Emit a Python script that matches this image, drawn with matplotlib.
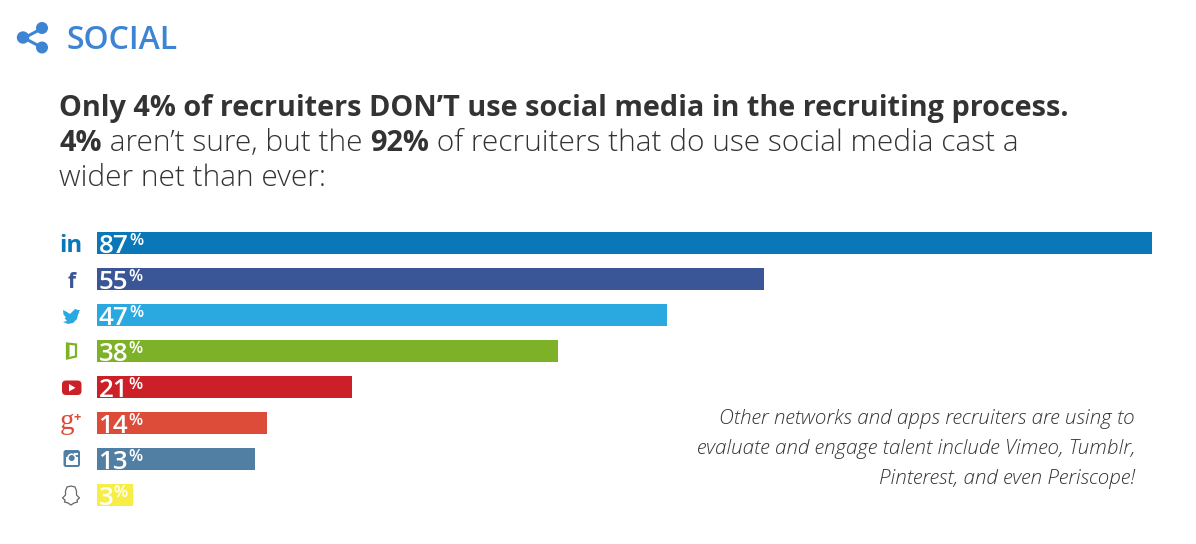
"""SOCIAL - recruiters bar chart"""

import matplotlib
matplotlib.use("Agg")

import matplotlib.pyplot as plt
from matplotlib.patches import Circle, FancyBboxPatch, Polygon, Rectangle

networks = ["LinkedIn", "Facebook", "Twitter", "Doximity", "YouTube", "Google+", "Instagram", "Snapchat"]
values = [87, 55, 47, 38, 21, 14, 13, 3]
colors = ["#0a78b8", "#3b5697", "#2aa9e1", "#7db228", "#cb2027", "#dd4b39", "#517fa4", "#f7ee45"]

section_title = "SOCIAL"
head_line_1 = [("Only 4% of recruiters DON\u2019T use social media in the recruiting process.", "bold")]
head_line_2 = [("4%", "bold"), (" aren\u2019t sure, but the ", "light"), ("92%", "bold"),
               (" of recruiters that do use social media cast a", "light")]
head_line_3 = [("wider net than ever:", "light")]
note_lines = ["Other networks and apps recruiters are using to",
              "evaluate and engage talent include Vimeo, Tumblr,",
              "Pinterest, and even Periscope!"]

W, H = 1196, 544
FONT = "Open Sans"

fig = plt.figure(figsize=(W / 100, H / 100), dpi=100, facecolor="white")

# overlay in pixel coordinates for text and icons
ov = fig.add_axes([0, 0, 1, 1])
ov.set_xlim(0, W)
ov.set_ylim(H, 0)
ov.axis("off")

# bars
ax = fig.add_axes([97 / W, 1 - 513 / H, 1055 / W, 288 / H])
ax.barh(range(len(values)), values, height=22 / 36, color=colors, linewidth=0)
ax.set_xlim(0, 87)
ax.set_ylim(7.5, -0.5)
ax.axis("off")
ax.set_zorder(1)
ov.set_zorder(2)
ov.patch.set_alpha(0)


def px(size):
    return size * 0.72


def run_line(x, y, parts, color="#333333"):
    r = fig.canvas.get_renderer()
    for s, weight in parts:
        size = 28.85 if weight == "bold" else 29.85
        t = ov.text(x, y, s.replace(" ", "\u00a0"), fontsize=px(size), family=FONT,
                    weight=weight, color=color, va="baseline", ha="left")
        x += t.get_window_extent(r).width


# header
blue = "#3d85d3"
ov.text(66, 49, section_title, fontsize=px(32), family=FONT, weight="semibold", color=blue, va="baseline")
share_pts = [(41, 29), (24, 38), (41, 47)]
ov.plot(*zip(*share_pts), color=blue, lw=2.2, solid_joinstyle="miter")
for cx, cy_, rad in [(42, 28, 6), (23, 37.5, 6.2), (42, 47.5, 6)]:
    ov.add_patch(Circle((cx, cy_), rad, color=blue, lw=0))

run_line(59, 116, head_line_1)
run_line(59, 151, head_line_2)
run_line(59, 186, head_line_3)

# value labels, number and smaller raised % sign
r = fig.canvas.get_renderer()
for i, v in enumerate(values):
    base = 253 + i * 36
    t = ov.text(98.5, base, str(v), fontsize=px(26), family=FONT, weight="semibold",
                color="white", va="baseline", ha="left")
    x_end = 98.5 + t.get_window_extent(r).width
    ov.text(x_end + 0.5, base - 8, "%", fontsize=px(16.5), family=FONT, weight="semibold",
            color="white", va="baseline", ha="left")

# note
for i, line in enumerate(note_lines):
    ov.text(1135, 424 + i * 30, line, fontsize=px(20.6), family=FONT, style="italic",
            weight="light", color="#333333", ha="right", va="baseline")

# icons
cy = [243 + i * 36 for i in range(8)]
# linkedin
ov.text(71, cy[0] + 8.5, "in", fontsize=px(24), family=FONT, weight="bold", color=colors[0], ha="center", va="baseline")
# facebook
ov.text(71.5, cy[1] + 8.5, "f", fontsize=px(21), family=FONT, weight="bold", color=colors[1], ha="center", va="baseline")
# twitter
tw = [(63, 310), (67, 312), (70, 314), (72, 312), (75, 309), (78, 310), (80, 310), (78.5, 312.5), (79.5, 312.5),
      (78, 314.5), (77, 319), (73, 323), (68, 324), (63, 322), (67, 321), (64.5, 318), (66, 317.5), (63.5, 314.5)]
ov.add_patch(Polygon(tw, closed=True, color=colors[2], lw=0))
# doximity door
ov.add_patch(Polygon([(67, 343.5), (76, 344.5), (76, 356.5), (67, 358.5)], closed=True, fc="none", ec=colors[3], lw=1.6))
ov.add_patch(Polygon([(67, 343), (69.5, 345), (69.5, 356), (67, 359)], closed=True, color=colors[3], lw=0))
# youtube
ov.add_patch(FancyBboxPatch((62, 380.5), 19.5, 14.5, boxstyle="round,pad=0,rounding_size=4", fc=colors[4], ec="none"))
ov.add_patch(Polygon([(69, 384), (69, 391.5), (75.5, 387.8)], closed=True, color="white", lw=0))
# google plus
ov.text(67, cy[5] + 6, "g", fontsize=px(29), family="Liberation Serif", color=colors[5], ha="center", va="baseline")
ov.text(77.5, cy[5] - 2, "+", fontsize=px(13), family=FONT, weight="bold", color=colors[5], ha="center", va="baseline")
# instagram
ov.add_patch(FancyBboxPatch((63.5, 450), 16.5, 17, boxstyle="round,pad=0,rounding_size=2.5", fc=colors[6], ec="none"))
ov.add_patch(Rectangle((66, 457), 11.5, 8, color="white", lw=0))
ov.add_patch(Circle((71.7, 458), 4.6, color="white", lw=0))
ov.add_patch(Circle((71.7, 458), 3, color=colors[6], lw=0))
ov.add_patch(Rectangle((74, 452.5), 3.5, 2.5, color="white", lw=0))
# snapchat ghost
ghost = [(71, 486), (75, 487), (76.5, 491), (76.5, 495), (79.5, 498), (77, 500), (77.5, 502), (74, 503), (71, 505),
         (68, 503), (64.5, 502), (65, 500), (62.5, 498), (65.5, 495), (65.5, 491), (67, 487)]
ov.add_patch(Polygon(ghost, closed=True, fc="none", ec="#666666", lw=0.9, joinstyle="round"))

fig.savefig("out.png", dpi=100, facecolor="white")
